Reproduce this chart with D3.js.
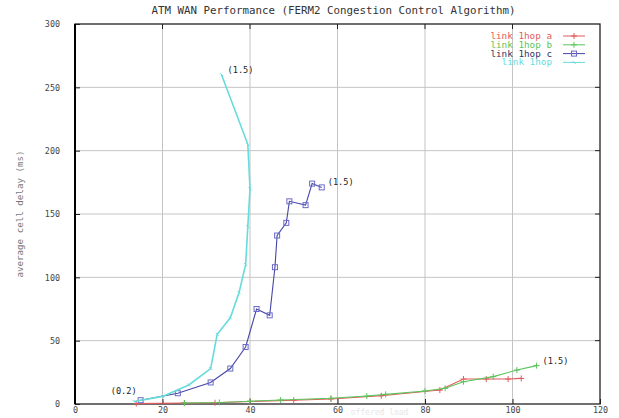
<!DOCTYPE html>
<html>
<head>
<meta charset="utf-8">
<script src="https://cdn.jsdelivr.net/npm/d3@7"></script>
<style>
  html, body { margin: 0; padding: 0; background: #fff; }
  svg text { font-family: "DejaVu Sans Mono", "Liberation Mono", monospace; }
</style>
</head>
<body>
<svg id="chart" width="619" height="418"></svg>
<script>
// gnuplot-style line chart: cell delay vs load, four link series

const titleText = 'ATM WAN Performance (FERM2 Congestion Control Algorithm)';
const yLabelText = 'average cell delay (ms)';
const xLabelText = 'offered load';

const xTicks = [0, 20, 40, 60, 80, 100, 120];
const yTicks = [0, 50, 100, 150, 200, 250, 300];

const seriesNames = ['link 1hop a', 'link 1hop b', 'link 1hop c', 'link 1hop'];

const hopA = [[14, 0.3], [25, 0.8], [32, 1], [40, 2], [50, 3], [58.5, 4], [70, 6.5],
  [83.4, 11], [88.8, 19.7], [94, 19.7], [99, 19.7], [102, 20.2]];
const hopB = [[25, 0.8], [33, 1.2], [40, 2.2], [47, 3.2], [58.5, 4.5], [66.7, 6.3], [71, 7.6],
  [80, 10.3], [84.6, 12.4], [88.8, 17.6], [95.6, 21.6], [101, 26.8], [105.5, 30.3]];
const hopC = [[15, 3], [23.5, 8.5], [31, 17], [35.5, 28], [39, 45], [41.5, 75], [44.5, 70],
  [45.7, 108], [46.2, 133], [48.3, 143], [49, 160], [52.7, 157], [54.2, 174], [56.4, 171]];
const hop = [[13.5, 2], [20, 6], [26, 15], [31, 28], [32.5, 55], [35.5, 68], [37.5, 88],
  [39, 110], [39.5, 140], [40, 170], [39.5, 205], [33.5, 260]];

// end-point labels (text, series index, which end)
const notes = [['(1.5)', 3, 'last'], ['(1.5)', 2, 'last'], ['(1.5)', 1, 'last'], ['(0.2)', 2, 'first']];

const colors = ['#e05a5a', '#5cc45c', '#4646a8', '#66dcdc'];
const markers = ['plus', 'plus', 'square', 'tick'];

const svg = d3.select('#chart');
const W = 619, H = 418;
const m = { left: 75, right: 19, top: 24, bottom: 14 };

const x = d3.scaleLinear().domain([0, 120]).range([m.left, W - m.right]);
const y = d3.scaleLinear().domain([0, 300]).range([H - m.bottom, m.top]);

// grid
svg.append('g').selectAll('line.vg')
  .data(xTicks.slice(1, -1)).enter().append('line')
  .attr('x1', d => x(d)).attr('x2', d => x(d))
  .attr('y1', y(0)).attr('y2', y(300))
  .attr('stroke', '#c4c4c4').attr('stroke-width', 1);
svg.append('g').selectAll('line.hg')
  .data(yTicks.slice(1, -1)).enter().append('line')
  .attr('x1', x(0)).attr('x2', x(120))
  .attr('y1', d => y(d)).attr('y2', d => y(d))
  .attr('stroke', '#c4c4c4').attr('stroke-width', 1);

// axes (ticks inside, gnuplot style)
const xAxis = d3.axisBottom(x).tickValues(xTicks).tickSize(-5).tickPadding(3);
const yAxis = d3.axisLeft(y).tickValues(yTicks).tickSize(-5).tickPadding(15);

const gx = svg.append('g').attr('transform', `translate(0,${y(0)})`).call(xAxis);
const gy = svg.append('g').attr('transform', `translate(${x(0)},0)`).call(yAxis);
[gx, gy].forEach(g => {
  g.select('.domain').remove();
  g.selectAll('.tick line').attr('stroke', '#222');
  g.selectAll('.tick text')
    .attr('fill', '#444')
    .style('font-size', '8.4px')
    .style('font-family', '"DejaVu Sans Mono", monospace');
});

// top / right ticks
svg.append('g').selectAll('line')
  .data(xTicks.slice(1, -1)).enter().append('line')
  .attr('x1', d => x(d)).attr('x2', d => x(d))
  .attr('y1', y(300)).attr('y2', y(300) + 5)
  .attr('stroke', '#222');
svg.append('g').selectAll('line')
  .data(yTicks.slice(1, -1)).enter().append('line')
  .attr('x1', x(120)).attr('x2', x(120) - 5)
  .attr('y1', d => y(d)).attr('y2', d => y(d))
  .attr('stroke', '#222');

// border
svg.append('rect')
  .attr('x', x(0)).attr('y', y(300))
  .attr('width', x(120) - x(0)).attr('height', y(0) - y(300))
  .attr('fill', 'none').attr('stroke', '#222').attr('stroke-width', 1.3);
svg.append('line')
  .attr('x1', x(0)).attr('x2', x(0)).attr('y1', y(0)).attr('y2', y(300))
  .attr('stroke', '#000').attr('stroke-width', 2);

// title and axis labels
svg.append('text')
  .attr('x', (x(0) + x(120)) / 2 - 4).attr('y', 14)
  .attr('text-anchor', 'middle')
  .attr('fill', '#333')
  .style('font-size', '10.8px')
  .text(titleText);

svg.append('text')
  .attr('transform', `translate(23,${(y(0) + y(300)) / 2}) rotate(-90)`)
  .attr('text-anchor', 'middle')
  .attr('fill', '#777')
  .style('font-size', '9.2px')
  .text(yLabelText);

svg.append('text')
  .attr('x', x(63)).attr('y', y(0) + 11)
  .attr('text-anchor', 'start')
  .attr('fill', '#e6e6e6')
  .style('font-size', '8px')
  .text(xLabelText);

// series
const allSeries = [hopA, hopB, hopC, hop];
const line = d3.line().x(d => x(d[0])).y(d => y(d[1]));

function drawMarker(g, kind, color) {
  if (kind === 'plus') {
    g.append('path').attr('d', 'M-3,0H3M0,-3V3').attr('stroke', color).attr('stroke-width', 1);
  } else if (kind === 'square') {
    g.append('rect').attr('x', -2.5).attr('y', -2.5).attr('width', 5).attr('height', 5)
      .attr('fill', 'none').attr('stroke', '#6a6ac8').attr('stroke-width', 1);
  } else {
    g.append('path').attr('d', 'M-1.5,-1.5L1.5,1.5').attr('stroke', color).attr('stroke-width', 1);
  }
}

allSeries.forEach((data, i) => {
  svg.append('path')
    .datum(data)
    .attr('fill', 'none')
    .attr('stroke', colors[i])
    .attr('stroke-width', i === 3 ? 1.6 : 1.1)
    .attr('d', line);
  svg.append('g').selectAll('g')
    .data(data).enter().append('g')
    .attr('transform', d => `translate(${x(d[0])},${y(d[1])})`)
    .each(function () { drawMarker(d3.select(this), markers[i], colors[i]); });
});

// point labels
notes.forEach(([txt, si, end]) => {
  const pts = allSeries[si];
  const p = end === 'last' ? pts[pts.length - 1] : pts[0];
  svg.append('text')
    .attr('x', x(p[0]) + (end === 'last' ? 6 : -4))
    .attr('y', y(p[1]) + (end === 'last' ? -2 : -6))
    .attr('text-anchor', end === 'last' ? 'start' : 'end')
    .attr('fill', '#222')
    .style('font-size', '8.6px')
    .text(txt);
});

// legend
const lg = svg.append('g');
seriesNames.forEach((name, i) => {
  const ly = 36 + i * 8.8;
  lg.append('text')
    .attr('x', 552).attr('y', ly + 3)
    .attr('text-anchor', 'end')
    .attr('fill', i === 2 ? '#333366' : colors[i])
    .attr('textLength', name.length * 5.6)
    .attr('lengthAdjust', 'spacingAndGlyphs')
    .style('font-size', '8.4px')
    .text(name);
  lg.append('line')
    .attr('x1', 563).attr('x2', 585).attr('y1', ly).attr('y2', ly)
    .attr('stroke', colors[i]).attr('stroke-width', 1);
  drawMarker(lg.append('g').attr('transform', `translate(574,${ly})`), markers[i], colors[i]);
});
</script>
</body>
</html>
